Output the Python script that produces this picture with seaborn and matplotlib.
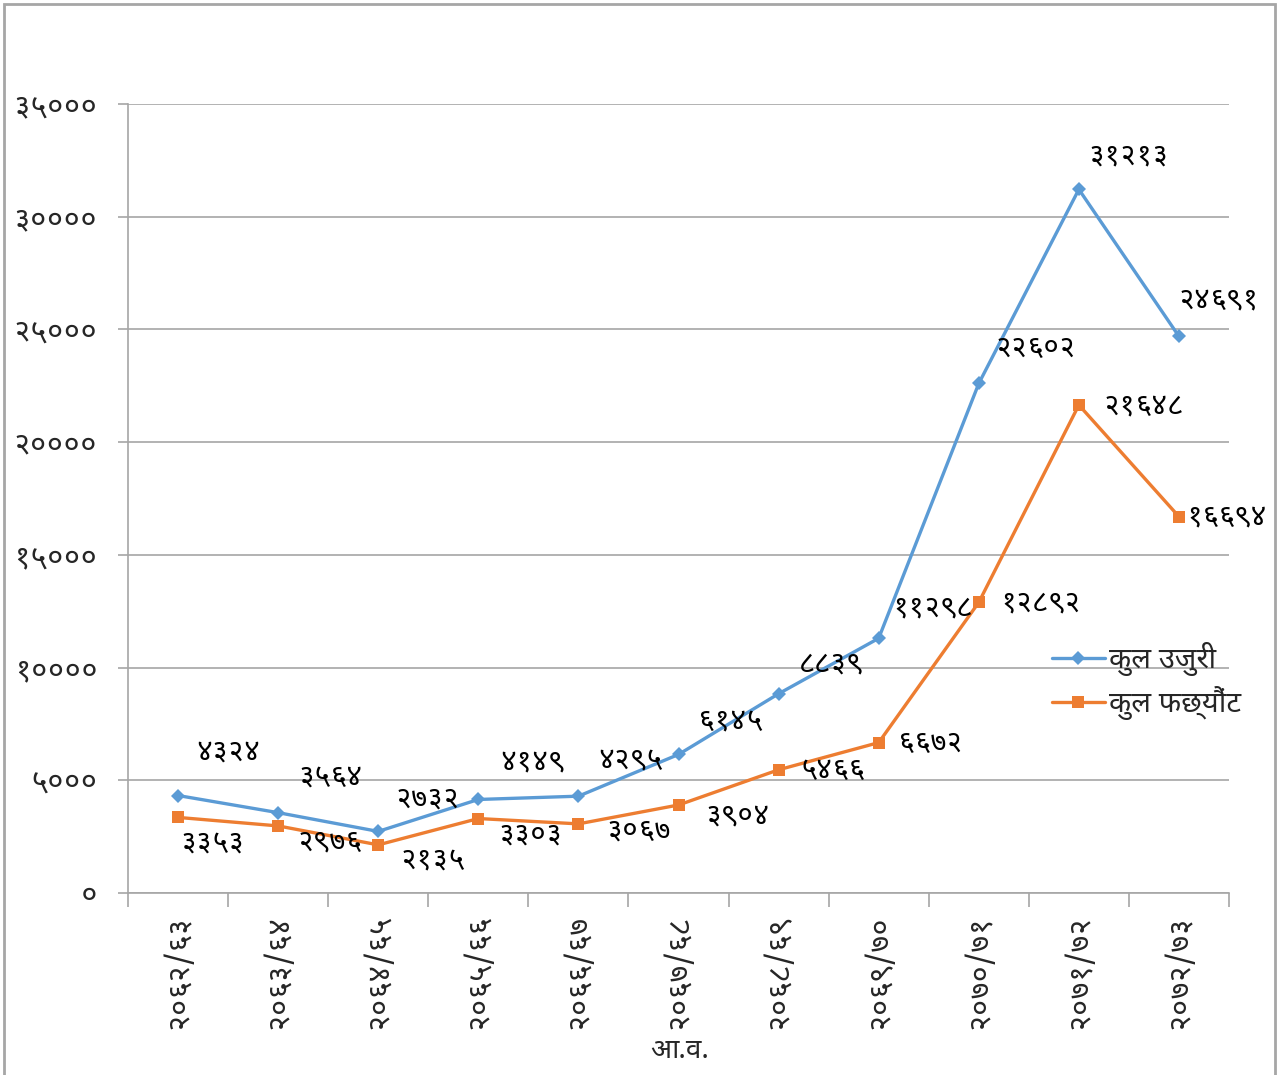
import matplotlib
matplotlib.use("Agg")
import os
import matplotlib.pyplot as plt
import matplotlib.patches as patches
from matplotlib import font_manager, ft2font
from matplotlib.ticker import FixedLocator, NullFormatter
import seaborn as sns
import pandas as pd

years = ["२०६२/६३", "२०६३/६४", "२०६४/६५", "२०६५/६६", "२०६६/६७", "२०६७/६८",
         "२०६८/६९", "२०६९/७०", "२०७०/७१", "२०७१/७२", "२०७२/७३"]
complaints = [4324, 3564, 2732, 4149, 4295, 6145, 8839, 11298, 22602, 31213, 24691]
settled = [3353, 2976, 2135, 3303, 3067, 3904, 5466, 6672, 12892, 21648, 16694]
yticks = [0, 5000, 10000, 15000, 20000, 25000, 30000, 35000]
name_complaints = "कुल उजुरी"
name_settled = "कुल फछ्यौंट"
xlabel = "आ.व."

# label offsets in image pixels (dx right, dy down)
off_complaints = [(50, -44), (52, -36), (49, -33), (54, -38), (52, -37), (52, -33),
                  (52, -30), (54, -31), (57, -36), (50, -34), (40, -37)]
off_settled = [(34, 25), (52, 16), (54, 16), (52, 16), (60, 7), (59, 10),
               (54, 0), (52, 0), (62, 0), (65, 0), (48, 0)]


def nep(n):
    return str(n).translate(str.maketrans("0123456789", "०१२३४५६७८९"))


def find_devanagari():
    best, best_score = None, None
    for path in font_manager.findSystemFonts():
        try:
            if 0x0915 not in ft2font.FT2Font(path).get_charmap():
                continue
        except Exception:
            continue
        n = os.path.basename(path).lower()
        score = 0
        if "mono" in n:
            score -= 100
        if "serif" in n:
            score -= 20
        if "devanagari" in n or "lohit" in n or "mukta" in n or "kalimati" in n:
            score += 30
        if "sans" in n:
            score += 10
        if "bold" in n or "italic" in n or "oblique" in n or "light" in n or "condensed" in n:
            score -= 15
        if best_score is None or score > best_score:
            best, best_score = path, score
    return best


sns.set_style("white")
fam = ["DejaVu Sans"]
dev = find_devanagari()
if dev:
    font_manager.fontManager.addfont(dev)
    fam = [font_manager.FontProperties(fname=dev).get_name(), "DejaVu Sans"]
plt.rcParams["font.family"] = fam

BLUE = "#5B9BD5"
ORANGE = "#ED7D31"
GRAY = "#A6A6A6"

df = pd.DataFrame({"x": range(len(years)), "c": complaints, "s": settled})

fig = plt.figure(figsize=(12.79, 10.75), dpi=100)
ax = fig.add_axes([128 / 1279, 1 - 893 / 1075, (1229 - 128) / 1279, (893 - 104) / 1075])

sns.lineplot(data=df, x="x", y="c", ax=ax, color=BLUE, lw=2.4, marker="D", markersize=7,
             markeredgewidth=0, label=name_complaints)
sns.lineplot(data=df, x="x", y="s", ax=ax, color=ORANGE, lw=2.4, marker="s", markersize=9,
             markeredgewidth=0, label=name_settled)

for i, v in enumerate(complaints):
    dx, dy = off_complaints[i]
    ax.annotate(nep(v), (i, v), xytext=(dx, -dy), textcoords="offset pixels",
                ha="center", va="center", fontsize=21, color="black")
for i, v in enumerate(settled):
    dx, dy = off_settled[i]
    ax.annotate(nep(v), (i, v), xytext=(dx, -dy), textcoords="offset pixels",
                ha="center", va="center", fontsize=21, color="black")

ax.set_xlim(-0.5, len(years) - 0.5)
ax.set_ylim(0, 35000)
ax.set_yticks(yticks)
ax.set_yticklabels([nep(t) for t in yticks], fontsize=22)
ax.yaxis.grid(True, color=GRAY, lw=1.2)
ax.set_axisbelow(True)

ax.xaxis.set_major_locator(FixedLocator([i - 0.5 for i in range(len(years) + 1)]))
ax.xaxis.set_major_formatter(NullFormatter())
ax.xaxis.set_minor_locator(FixedLocator(list(range(len(years)))))
ax.set_xticklabels(years, minor=True, rotation=90, fontsize=22)
ax.tick_params(axis="x", which="major", length=10, width=1.2, color=GRAY, direction="out", bottom=True)
ax.tick_params(axis="x", which="minor", length=0, pad=16)
ax.tick_params(axis="y", length=7, width=1.2, color=GRAY, direction="out", left=True, pad=15)

ax.set_xlabel(xlabel, fontsize=20, labelpad=0)
ax.xaxis.set_label_coords((680 - 128) / (1229 - 128), -(1036 - 893) / (893 - 104))
ax.set_ylabel("")
for side in ["top", "right"]:
    ax.spines[side].set_visible(False)
for side in ["left", "bottom"]:
    ax.spines[side].set_color(GRAY)
    ax.spines[side].set_linewidth(1.2)

ax.legend(loc="upper left", bbox_to_anchor=(1052 / 1279, 1 - 642 / 1075),
          bbox_transform=fig.transFigure, frameon=False, fontsize=21,
          handlelength=1.8, handletextpad=0.17, labelspacing=0.35, borderpad=0,
          borderaxespad=0)

fig.patches.append(patches.Rectangle((4 / 1279, -0.01), 1271 / 1279, 1 - 4 / 1075 + 0.01,
                                     transform=fig.transFigure, fill=False,
                                     edgecolor=GRAY, lw=2))

fig.savefig("out.png", dpi=100)
